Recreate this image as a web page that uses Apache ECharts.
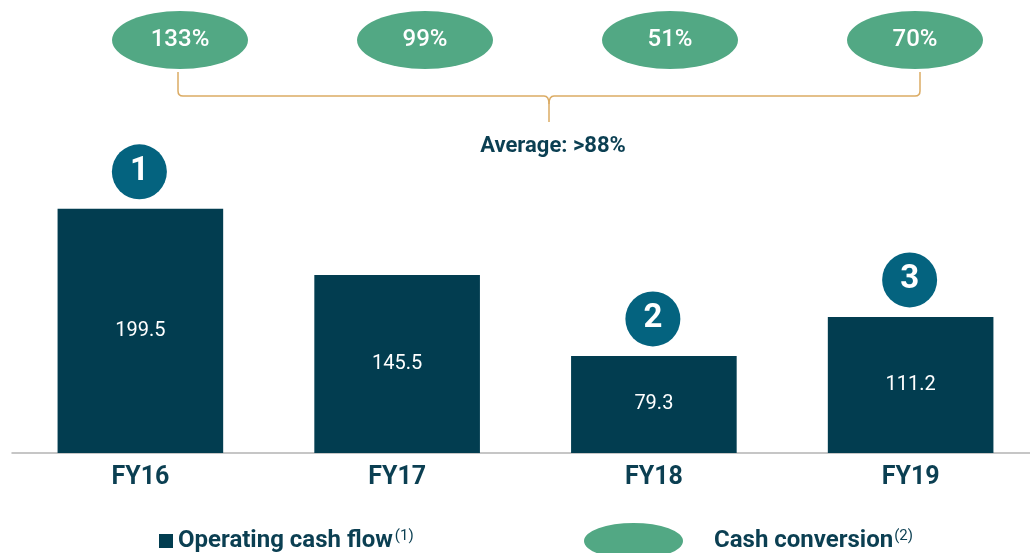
<!DOCTYPE html>
<html>
<head>
<meta charset="utf-8">
<script src="https://cdn.jsdelivr.net/npm/echarts@6/dist/echarts.min.js"></script>
<style>
    html, body { margin: 0; padding: 0; background: #fff; }
    #chart { width: 1030px; height: 553px; }
</style>
</head>
<body>
<div id="chart"></div>
<script>
    // data
    const years = ['FY16', 'FY17', 'FY18', 'FY19'];
    const cashFlow = [199.5, 145.5, 79.3, 111.2];
    const conversion = [133, 99, 51, 70];
    const badges = ['1', '', '2', '3'];
    const averageText = 'Average: >88%';

    const DARK = '#023d50';
    const BADGE = '#04637f';
    const GREEN = '#52a884';
    const TEXT = '#0b3f52';
    const BRACE = '#dbab63';
    const FONT = 'Roboto';
    const ELLIPSE = 'path://M0,1A1,1,0,1,1,2,1A1,1,0,1,1,0,1Z';

    const myChart = echarts.init(document.getElementById('chart'));

    myChart.setOption({
        animation: false,
        textStyle: { fontFamily: FONT },
        grid: [
            { left: 12, width: 1027, top: 147, bottom: 100, outerBoundsMode: 'none' },
            { left: 57.5, width: 980, top: -1, height: 82, outerBoundsMode: 'none' }
        ],
        xAxis: [
            {
                type: 'category',
                gridIndex: 0,
                data: years,
                axisLine: { lineStyle: { color: '#b4b4b4', width: 1.5 } },
                axisTick: { show: false },
                axisLabel: {
                    fontSize: 25,
                    fontWeight: 'bold',
                    color: TEXT,
                    margin: 12
                }
            },
            {
                type: 'category',
                gridIndex: 1,
                data: years,
                show: false
            }
        ],
        yAxis: [
            { type: 'value', gridIndex: 0, min: 0, max: 250, show: false },
            { type: 'value', gridIndex: 1, min: 0, max: 1, show: false }
        ],
        legend: [
            {
                data: ['Operating cash flow'],
                left: 159,
                top: 529,
                padding: 0,
                icon: 'rect',
                itemWidth: 14,
                itemHeight: 14,
                selectedMode: false,
                formatter: name => '{t|' + name + '}{s|(1)}',
                textStyle: {
                    rich: {
                        t: { fontSize: 24, fontWeight: 'bold', color: TEXT, fontFamily: FONT },
                        s: { fontSize: 15, color: TEXT, verticalAlign: 'top', padding: [0, 0, 0, 2], fontFamily: FONT }
                    }
                }
            },
            {
                data: ['Cash conversion'],
                left: 584,
                top: 523,
                padding: 0,
                icon: ELLIPSE,
                symbolKeepAspect: false,
                itemWidth: 99,
                itemHeight: 36,
                selectedMode: false,
                formatter: name => '{t|' + name + '}{s|(2)}',
                textStyle: {
                    padding: [0, 0, 0, 26],
                    rich: {
                        t: { fontSize: 24, fontWeight: 'bold', color: TEXT, fontFamily: FONT },
                        s: { fontSize: 15, color: TEXT, verticalAlign: 'top', padding: [0, 0, 0, 1], fontFamily: FONT }
                    }
                }
            }
        ],
        series: [
            {
                name: 'Operating cash flow',
                type: 'bar',
                xAxisIndex: 0,
                yAxisIndex: 0,
                barWidth: '64.5%',
                data: cashFlow,
                itemStyle: { color: DARK },
                label: {
                    show: true,
                    position: 'inside',
                    color: '#fff',
                    fontSize: 20,
                    fontFamily: FONT
                }
            },
            {
                name: 'badges',
                type: 'scatter',
                xAxisIndex: 0,
                yAxisIndex: 0,
                symbol: 'circle',
                symbolSize: 55,
                symbolOffset: [-1, -37],
                itemStyle: { color: BADGE, opacity: 1 },
                data: cashFlow.map((v, i) => badges[i] ? { value: v, badge: badges[i] } : null),
                label: {
                    show: true,
                    position: 'inside',
                    color: '#fff',
                    fontSize: 33,
                    fontWeight: 'bold',
                    fontFamily: FONT,
                    formatter: p => p.data.badge
                },
                z: 5
            },
            {
                name: 'Cash conversion',
                type: 'scatter',
                xAxisIndex: 1,
                yAxisIndex: 1,
                symbol: ELLIPSE,
                symbolSize: [136, 58],
                itemStyle: { color: GREEN, opacity: 1 },
                data: conversion.map(v => ({ value: 0.5, pct: v })),
                label: {
                    show: true,
                    position: 'inside',
                    color: '#fff',
                    fontSize: 24,
                    fontWeight: 500,
                    fontFamily: FONT,
                    formatter: p => p.data.pct + '%'
                }
            }
        ]
    });

    // brace under the ellipses, placed from the ellipse axis
    const braceLeft = myChart.convertToPixel({ xAxisIndex: 1 }, years[0]) - 2;
    const braceRight = myChart.convertToPixel({ xAxisIndex: 1 }, years[years.length - 1]) + 5;
    const braceMid = (braceLeft + braceRight) / 2;
    const braceTop = 72, braceLine = 96, braceTip = 122, r = 5;
    const braceStyle = { stroke: BRACE, lineWidth: 1.5, fill: null };

    const seg = (x1, y1, x2, y2) => ({ type: 'line', shape: { x1, y1, x2, y2 }, style: braceStyle });
    const curve = (x1, y1, cpx1, cpy1, x2, y2) => ({
        type: 'bezierCurve', shape: { x1, y1, cpx1, cpy1, x2, y2 }, style: braceStyle
    });

    myChart.setOption({
        graphic: [
            seg(braceLeft, braceTop, braceLeft, braceLine - r),
            curve(braceLeft, braceLine - r, braceLeft, braceLine, braceLeft + r, braceLine),
            seg(braceLeft + r, braceLine, braceMid - r, braceLine),
            curve(braceMid - r, braceLine, braceMid, braceLine, braceMid, braceLine + r + 3),
            seg(braceMid, braceLine + r + 3, braceMid, braceTip),
            curve(braceMid, braceLine + r + 3, braceMid, braceLine, braceMid + r, braceLine),
            seg(braceMid + r, braceLine, braceRight - r, braceLine),
            curve(braceRight - r, braceLine, braceRight, braceLine, braceRight, braceLine - r),
            seg(braceRight, braceLine - r, braceRight, braceTop),
            {
                type: 'text',
                x: braceMid + 4,
                y: 146,
                style: {
                    text: averageText,
                    fill: TEXT,
                    font: 'bold 22px ' + FONT,
                    align: 'center',
                    verticalAlign: 'middle'
                }
            }
        ]
    });
</script>
</body>
</html>
